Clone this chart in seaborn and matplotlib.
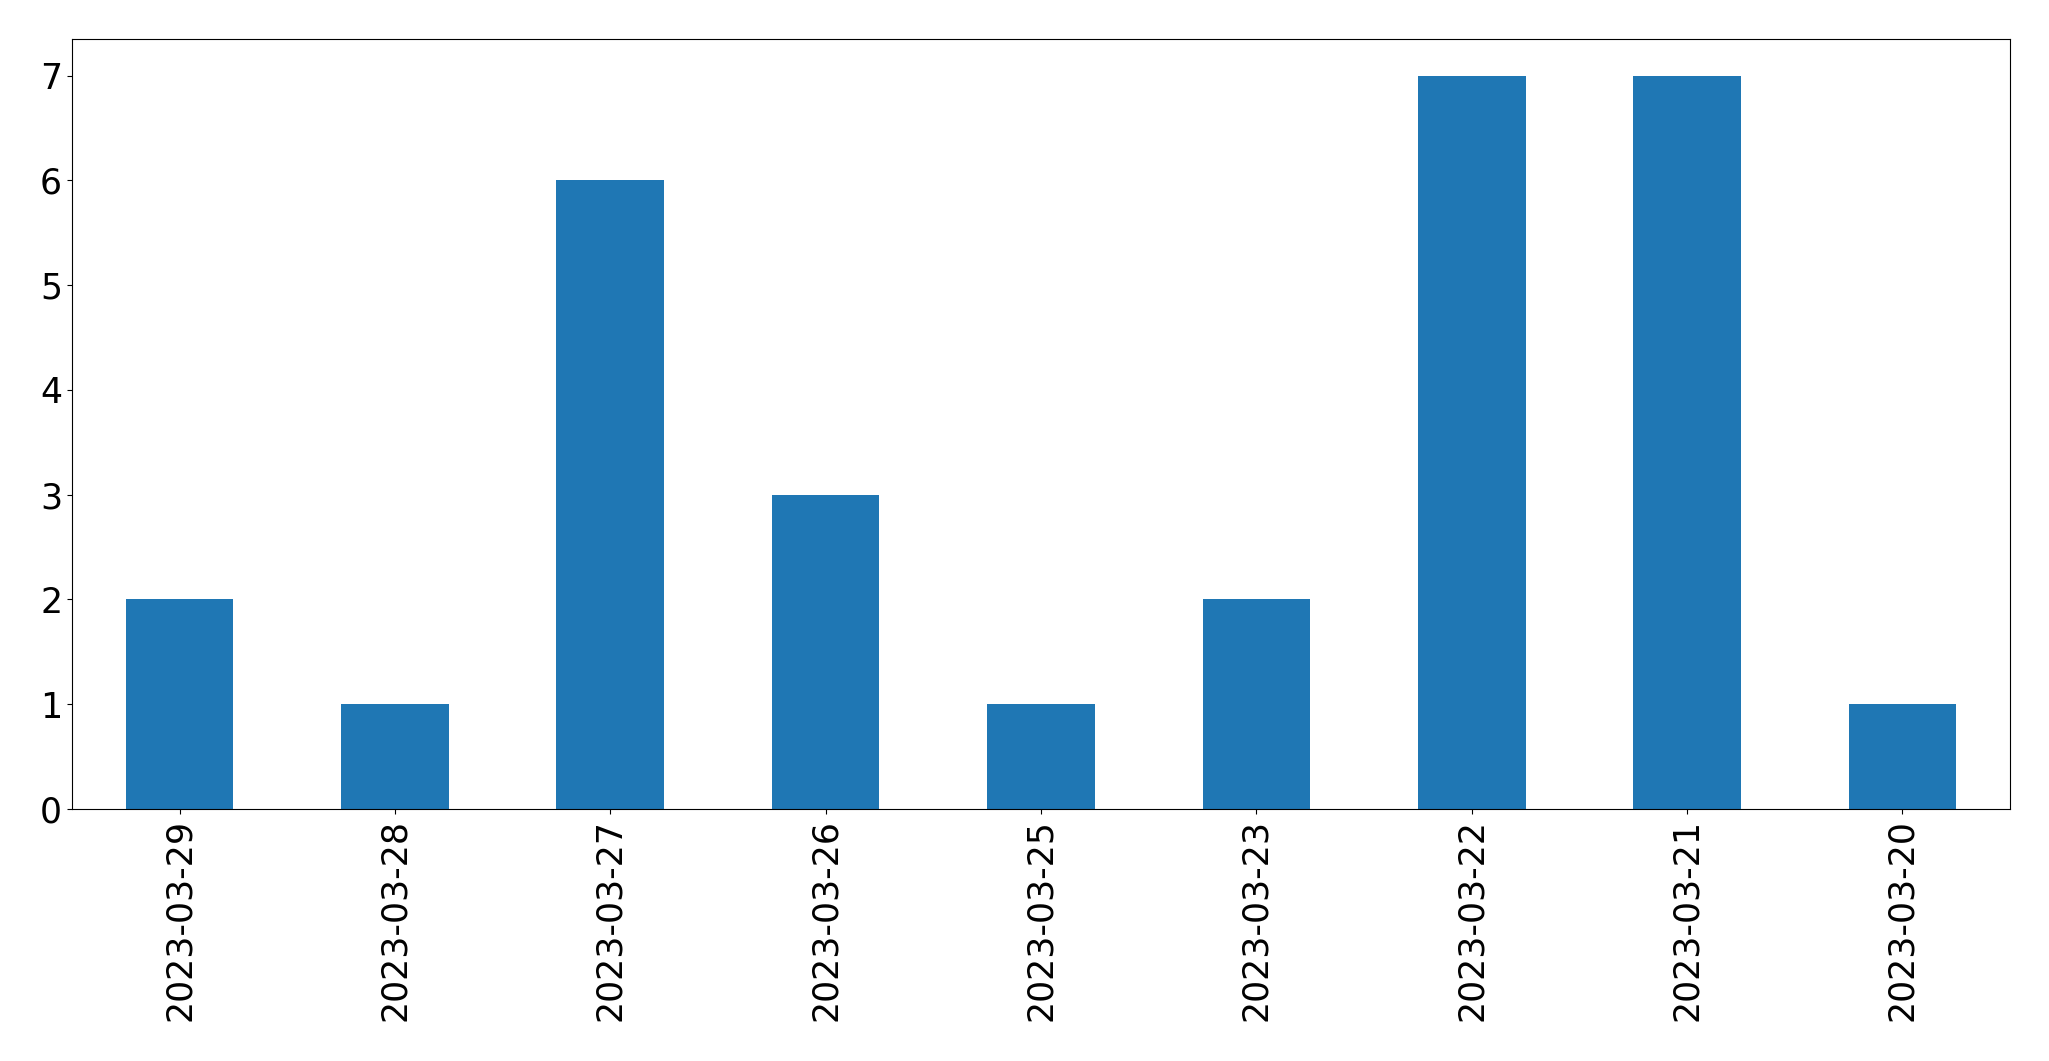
import pandas as pd
import matplotlib
matplotlib.use('Agg')
import matplotlib.pyplot as plt
import seaborn as sns

# Counts per date, in the order shown
dates = ['2023-03-29', '2023-03-28', '2023-03-27', '2023-03-26', '2023-03-25',
         '2023-03-23', '2023-03-22', '2023-03-21', '2023-03-20']
counts = [2, 1, 6, 3, 1, 2, 7, 7, 1]

data = pd.DataFrame({'date': dates, 'count': counts})

fig, ax = plt.subplots(figsize=(20.49, 10.61), dpi=100)
sns.barplot(x='date', y='count', data=data, order=dates, color='#1f77b4',
            saturation=1, width=0.5, ax=ax)
ax.set_xlim(-0.5, len(dates) - 0.5)
ax.set_ylim(0, 7.35)
ax.set_xlabel('')
ax.set_ylabel('')
ax.tick_params(axis='both', labelsize=25)
plt.xticks(rotation=90)
plt.subplots_adjust(left=0.0351, right=0.981, top=0.9632, bottom=0.2375)
plt.savefig('out.png', dpi=100)
